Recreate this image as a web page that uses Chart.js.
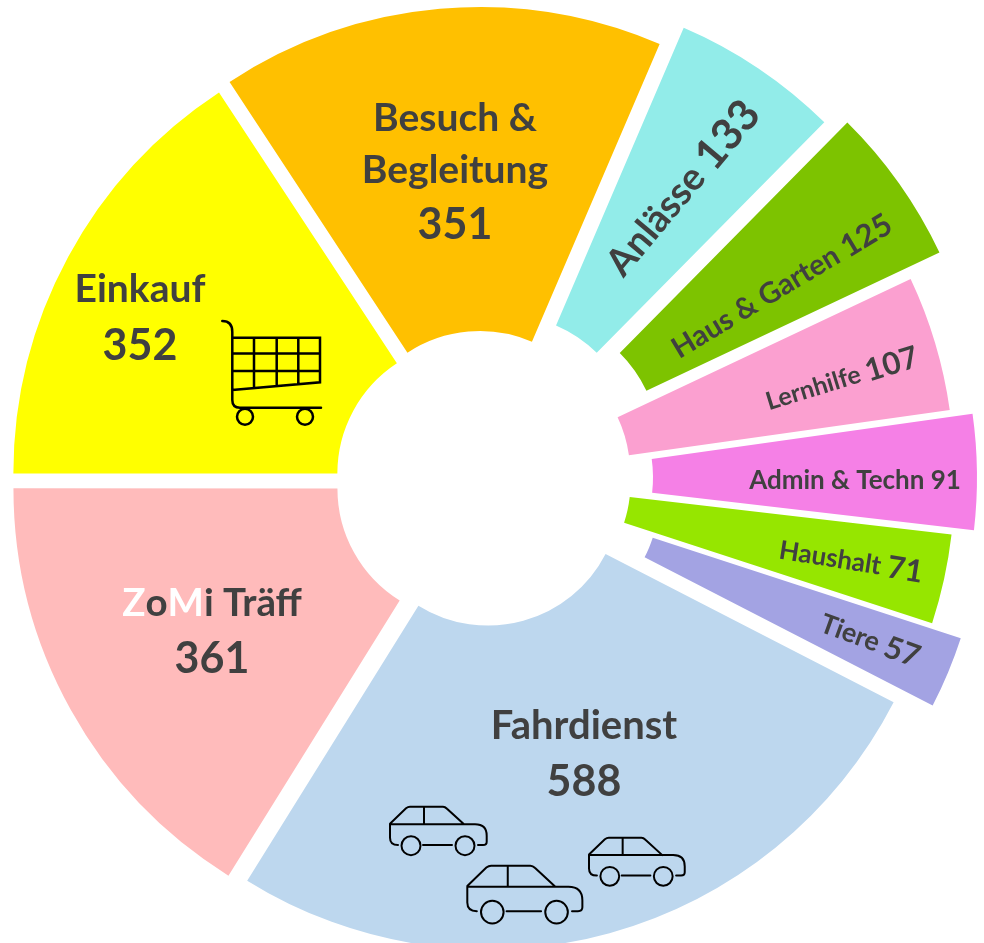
<!DOCTYPE html>
<html>
<head>
<meta charset="utf-8">
<style>
  html, body { margin: 0; padding: 0; background: #fff; }
  canvas { display: block; }
</style>
<script src="https://cdn.jsdelivr.net/npm/chart.js@4"></script>
</head>
<body>
<canvas id="grapEinsaetze" width="984" height="943"></canvas>
<script>
var categories = ['Besuch & Begleitung', 'Anlässe', 'Haus & Garten', 'Lernhilfe', 'Admin & Techn', 'Haushalt', 'Tiere', 'Fahrdienst', 'ZoMi Träff', 'Einkauf'];
var einsaetze = [351, 133, 125, 107, 91, 71, 57, 588, 361, 352];
var farben = ['#FFC000', '#92ECE9', '#7DC300', '#FBA0D0', '#F580E6', '#96E600', '#A3A3E3', '#BDD7EE', '#FFBBBB', '#FFFF00'];

// how far each slice is pulled out of the centre, px
var verschiebung = [18, 43, 57, 19, 41, 18, 49, 12, 15.5, 15.5];
// small corrections on top of that
var korrX = [-1.5, -3, -2.5, -3, -3, -2, -1, 2, 0, 0];
var korrY = [0, 1.5, -1, -2, -3, -3, -3, 1, 0, 0];

var DUNKEL = '#404040';

// text lines per slice: dx, dy from chart centre, rotation, runs of [text, size, colour]
var beschriftung = [
  { dx: -28, dy: -312, rot: 0, lines: [
    { y: -52, runs: [['Besuch &', 39]] },
    { y: 0, runs: [['Begleitung', 39]] },
    { y: 55, runs: [[einsaetze[0] + '', 43]] } ] },
  { dx: 200, dy: -294, rot: -50, lines: [{ y: 0, runs: [['Anlässe ', 38], [einsaetze[1] + '', 43]] }] },
  { dx: 299, dy: -196, rot: -31, lines: [{ y: 0, runs: [['Haus & Garten ', 29], [einsaetze[2] + '', 31]] }] },
  { dx: 359, dy: -103, rot: -17, lines: [{ y: 0, runs: [['Lernhilfe ', 25], [einsaetze[3] + '', 31]] }] },
  { dx: 372, dy: -2, rot: 0, lines: [{ y: 0, runs: [['Admin & Techn ' + einsaetze[4], 26]] }] },
  { dx: 368, dy: 79, rot: 9, lines: [{ y: 0, runs: [['Haushalt ', 26], [einsaetze[5] + '', 31]] }] },
  { dx: 387, dy: 158, rot: 20, lines: [{ y: 0, runs: [['Tiere ', 27], [einsaetze[6] + '', 31]] }] },
  { dx: 101, dy: 244, rot: 0, lines: [
    { y: 0, runs: [['Fahrdienst', 40]] },
    { y: 56, runs: [[einsaetze[7] + '', 43]] } ] },
  { dx: -271, dy: 121, rot: 0, lines: [
    { y: 0, runs: [['Z', 38.5, '#FFFFFF'], ['o', 38.5], ['M', 38.5, '#FFFFFF'], ['i Träff', 38.5]] },
    { y: 56, runs: [[einsaetze[8] + '', 43]] } ] },
  { dx: -343, dy: -193, rot: 0, lines: [
    { y: 0, runs: [['Einkauf', 39]] },
    { y: 57, runs: [[einsaetze[9] + '', 43]] } ] }
];

function zeichneZeile(ctx, zeile) {
  var breite = 0;
  zeile.runs.forEach(function (r) {
    ctx.font = 'bold ' + r[1] + 'px Lato';
    breite += ctx.measureText(r[0]).width;
  });
  var x = -breite / 2;
  zeile.runs.forEach(function (r) {
    ctx.font = 'bold ' + r[1] + 'px Lato';
    ctx.fillStyle = r[2] || DUNKEL;
    ctx.fillText(r[0], x, zeile.y);
    x += ctx.measureText(r[0]).width;
  });
}

function zeichneWagen(ctx) {
  ctx.beginPath();
  ctx.moveTo(222.3, 321);
  ctx.quadraticCurveTo(232.3, 321, 232.3, 332);
  ctx.lineTo(232.3, 400);
  ctx.quadraticCurveTo(232.3, 407.7, 240, 407.7);
  ctx.lineTo(321, 407.7);
  // basket
  ctx.moveTo(232.3, 337.7); ctx.lineTo(320, 337.7); ctx.lineTo(320, 382.3); ctx.lineTo(232.3, 390);
  ctx.moveTo(232.3, 353.5); ctx.lineTo(320, 353.5);
  ctx.moveTo(232.3, 371); ctx.lineTo(320, 371);
  ctx.moveTo(254, 337.7); ctx.lineTo(254, 388);
  ctx.moveTo(276.7, 337.7); ctx.lineTo(276.7, 386);
  ctx.moveTo(298.3, 337.7); ctx.lineTo(298.3, 384);
  ctx.stroke();
  [245, 305].forEach(function (x) {
    ctx.beginPath();
    ctx.arc(x, 416.7, 8, 0, Math.PI * 2);
    ctx.stroke();
  });
}

function zeichneAuto(ctx, x, y, s) {
  ctx.save();
  ctx.translate(x, y);
  ctx.scale(s, s);
  ctx.lineWidth = 2 / s;
  ctx.beginPath();
  ctx.moveTo(0, 17);
  ctx.lineTo(16, 1.5);
  ctx.quadraticCurveTo(18, 0, 20, 0);
  ctx.lineTo(53, 0);
  ctx.quadraticCurveTo(55, 0, 57, 2);
  ctx.lineTo(74, 17.6);
  ctx.moveTo(0, 17.6);
  ctx.lineTo(85, 17.6);
  ctx.quadraticCurveTo(96.7, 17.6, 96.7, 29);
  ctx.lineTo(96.7, 35);
  ctx.quadraticCurveTo(96.7, 38.3, 93, 38.3);
  ctx.lineTo(88, 38.3);
  ctx.moveTo(0, 17.6);
  ctx.lineTo(0, 31);
  ctx.quadraticCurveTo(0, 38.3, 8, 38.3);
  ctx.moveTo(34, 0);
  ctx.lineTo(34, 17.6);
  ctx.moveTo(33, 38.3);
  ctx.lineTo(62, 38.3);
  ctx.stroke();
  [21, 75].forEach(function (cx) {
    ctx.beginPath();
    ctx.arc(cx, 39, 9.5, 0, Math.PI * 2);
    ctx.stroke();
  });
  ctx.restore();
}

var kreisPlugin = {
  id: 'kreisPlugin',
  // pull the slices out, Chart's own offset also changes the radius
  afterDatasetsUpdate: function (chart) {
    var arcs = chart.getDatasetMeta(0).data;
    arcs.forEach(function (arc, i) {
      var mitte = (arc.startAngle + arc.endAngle) / 2;
      arc.x += Math.cos(mitte) * verschiebung[i] + korrX[i];
      arc.y += Math.sin(mitte) * verschiebung[i] + korrY[i];
    });
  },
  afterDatasetsDraw: function (chart) {
    var ctx = chart.ctx;
    var cx = (chart.chartArea.left + chart.chartArea.right) / 2;
    var cy = (chart.chartArea.top + chart.chartArea.bottom) / 2;
    ctx.save();
    ctx.textAlign = 'left';
    ctx.textBaseline = 'middle';
    beschriftung.forEach(function (b) {
      ctx.save();
      ctx.translate(cx + b.dx, cy + b.dy + 1.5);
      ctx.rotate(b.rot * Math.PI / 180);
      b.lines.forEach(function (zeile) { zeichneZeile(ctx, zeile); });
      ctx.restore();
    });
    ctx.strokeStyle = '#000000';
    ctx.lineWidth = 2.5;
    ctx.lineCap = 'round';
    zeichneWagen(ctx);
    zeichneAuto(ctx, 390, 806.7, 1);
    zeichneAuto(ctx, 467.3, 865.7, 1.19);
    zeichneAuto(ctx, 589, 837.7, 0.99);
    ctx.restore();
  }
};

var ctx = document.getElementById('grapEinsaetze');
new Chart(ctx, {
  type: 'doughnut',
  plugins: [kreisPlugin],
  data: {
    labels: categories,
    datasets: [{
      data: einsaetze,
      backgroundColor: farben,
      borderWidth: 0,
      clip: false
    }]
  },
  options: {
    responsive: false,
    animation: false,
    events: [],
    rotation: -33.3,
    radius: 456,
    cutout: '28.95%',
    layout: { padding: { right: 18, top: 19 } },
    plugins: {
      legend: { display: false },
      tooltip: { enabled: false }
    }
  }
});
</script>
</body>
</html>
